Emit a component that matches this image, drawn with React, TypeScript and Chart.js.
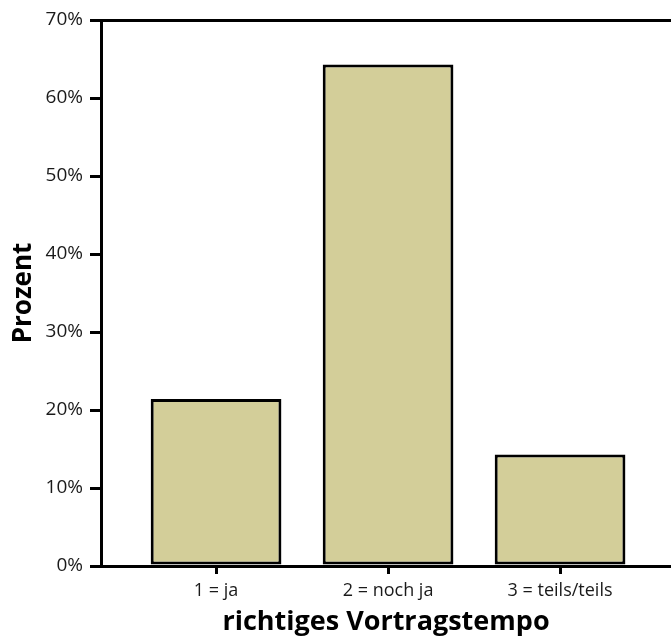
import React, { useEffect, useRef } from "react";
import { Chart, registerables } from "chart.js";

Chart.register(...registerables);

const categories = ["1 = ja", "2 = noch ja", "3 = teils/teils"];
const values = [21.4, 64.3, 14.3];
const yTicks = [0, 10, 20, 30, 40, 50, 60, 70];
const xTitle = "richtiges Vortragstempo";
const yTitle = "Prozent";

export default function App() {
  const ref = useRef<HTMLCanvasElement>(null);
  useEffect(() => {
    document.body.style.margin = "0";
    const ctx = ref.current!;
    const positions = categories.map((_, i) => i + 1);
    const chart = new Chart(ctx, {
      type: "bar",
      data: {
        datasets: [
          {
            data: values.map((v, i) => ({ x: positions[i], y: v })),
            backgroundColor: "#D3CE99",
            borderColor: "#000",
            borderWidth: 3,
            borderSkipped: false,
            categoryPercentage: 1,
            barPercentage: 0.76,
          },
        ],
      },
      options: {
        animation: false,
        responsive: false,
        maintainAspectRatio: false,
        layout: { padding: { top: 20, right: 0, left: 0, bottom: 0 } },
        plugins: { legend: { display: false }, tooltip: { enabled: false } },
        scales: {
          x: {
            type: "linear",
            offset: false,
            min: 0.331,
            max: 3.645,
            afterBuildTicks: (s: any) => {
              s.ticks = positions.map((p) => ({ value: p }));
            },
            afterFit: (s: any) => {
              s.height = 77;
            },
            grid: {
              offset: false,
              drawOnChartArea: false,
              drawTicks: true,
              tickLength: 8,
              tickColor: "#000",
              lineWidth: 3,
            },
            border: { color: "#000", width: 3 },
            ticks: {
              padding: 6,
              color: "#1a1a1a",
              font: { family: "Open Sans", size: 18 },
              maxRotation: 0,
              autoSkip: false,
              callback: (v: any) => categories[Math.round(v) - 1] ?? "",
            },
            title: {
              display: true,
              text: xTitle,
              color: "#000",
              font: { family: "Open Sans", size: 27, weight: "bold" },
              padding: { top: 0, bottom: 4 },
            },
          },
          y: {
            min: 0,
            max: 70,
            afterBuildTicks: (s: any) => {
              s.ticks = yTicks.map((v) => ({ value: v }));
            },
            afterFit: (s: any) => {
              s.width = 101;
            },
            grid: {
              drawOnChartArea: true,
              color: (c: any) => (c.tick && c.tick.value === 70 ? "#000" : "rgba(0,0,0,0)"),
              tickColor: "#000",
              tickLength: 11,
              lineWidth: 3,
            },
            border: { color: "#000", width: 3 },
            ticks: {
              padding: 7,
              color: "#1a1a1a",
              font: { family: "Open Sans", size: 19 },
              callback: (v: any) => v + "%",
            },
            title: {
              display: true,
              text: yTitle,
              color: "#000",
              font: { family: "Open Sans", size: 26, weight: "bold" },
              padding: { top: 8, bottom: 0 },
            },
          },
        },
      },
    } as any);
    return () => chart.destroy();
  }, []);
  return (
    <div style={{ position: "absolute", left: 0, top: 0, width: 671, height: 643 }}>
      <canvas ref={ref} width={671} height={643} style={{ width: 671, height: 643 }} />
    </div>
  );
}
